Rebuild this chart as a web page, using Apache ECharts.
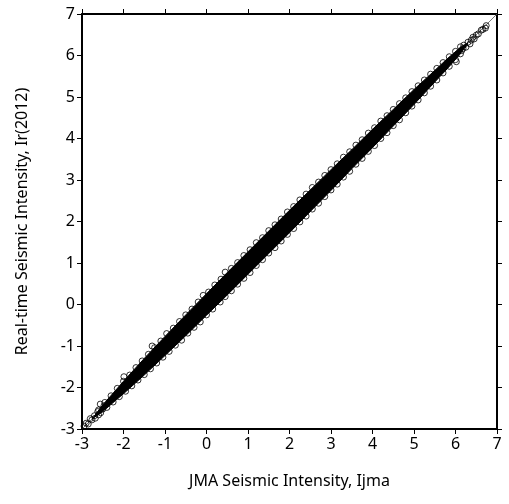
<!DOCTYPE html>
<html>
<head>
<meta charset="utf-8">
<script src="https://cdn.jsdelivr.net/npm/echarts@6/dist/echarts.min.js"></script>
<style>html,body{margin:0;padding:0;background:#fff}#c{width:509px;height:504px}</style>
</head>
<body>
<div id="c"></div>
<script>
// Axis ticks
var ticks = [-3, -2, -1, 0, 1, 2, 3, 4, 5, 6, 7];
// Dense core of the point cloud (solid region)
var bandX    = [-2.75, -2.5, -2.2, -2.0, -1.5, -1.0, -0.5, 0.0, 0.5, 1.0, 1.5, 2.0, 2.5, 3.0, 3.5, 4.0, 4.5, 5.0, 5.5, 5.8, 6.1, 6.3];
var bandLow  = [-2.75, -2.58, -2.32, -2.15, -1.70, -1.23, -0.75, -0.26, 0.23, 0.73, 1.23, 1.73, 2.24, 2.75, 3.27, 3.78, 4.30, 4.82, 5.36, 5.68, 6.02, 6.30];
var bandHigh = [-2.75, -2.42, -2.08, -1.85, -1.30, -0.77, -0.25, 0.26, 0.77, 1.27, 1.77, 2.27, 2.76, 3.25, 3.73, 4.22, 4.70, 5.18, 5.64, 5.92, 6.18, 6.30];
// Individual circles along the upper edge
var upperPts = [[-2.6,-2.54],[-2.45,-2.36],[-2.3,-2.20],[-2.15,-2.02],[-2.0,-1.85],[-1.99,-1.74],[-1.85,-1.70],[-1.7,-1.52],[-1.55,-1.36],[-1.4,-1.20],[-1.31,-1.00],[-1.25,-1.04],[-1.1,-0.88],[-0.96,-0.70],[-0.8,-0.57],[-0.65,-0.41],[-0.5,-0.25],[-0.35,-0.11],[-0.2,0.06],[-0.08,0.22],[0.05,0.30],[0.2,0.47],[0.35,0.61],[0.45,0.78],[0.6,0.87],[0.75,1.01],[0.9,1.18],[1.05,1.32],[1.2,1.49],[1.35,1.61],[1.5,1.78],[1.65,1.92],[1.8,2.06],[1.95,2.23],[2.1,2.36],[2.25,2.52],[2.4,2.66],[2.55,2.82],[2.7,2.95],[2.85,3.11],[3.0,3.25],[3.15,3.39],[3.3,3.55],[3.45,3.68],[3.6,3.84],[3.75,3.97],[3.9,4.13],[4.05,4.26],[4.2,4.42],[4.35,4.55],[4.5,4.70],[4.65,4.84],[4.8,4.98],[4.95,5.13],[5.1,5.27],[5.25,5.41],[5.4,5.55],[5.55,5.69],[5.7,5.83],[5.85,5.97],[6.0,6.10],[6.12,6.21]];
// Individual circles along the lower edge
var lowerPts = [[-2.55,-2.61],[-2.4,-2.48],[-2.25,-2.35],[-2.1,-2.22],[-1.95,-2.09],[-1.8,-1.96],[-1.65,-1.82],[-1.5,-1.69],[-1.35,-1.55],[-1.2,-1.41],[-1.05,-1.27],[-0.9,-1.13],[-0.75,-0.98],[-0.6,-0.86],[-0.45,-0.69],[-0.3,-0.55],[-0.15,-0.42],[0.0,-0.25],[0.15,-0.11],[0.33,0.06],[0.45,0.19],[0.6,0.33],[0.75,0.49],[0.9,0.63],[1.05,0.77],[1.2,0.94],[1.35,1.08],[1.5,1.24],[1.65,1.37],[1.8,1.53],[1.95,1.69],[2.1,1.83],[2.25,1.99],[2.4,2.13],[2.55,2.30],[2.7,2.44],[2.85,2.60],[3.0,2.76],[3.15,2.90],[3.3,3.07],[3.45,3.21],[3.6,3.38],[3.75,3.52],[3.9,3.69],[4.05,3.83],[4.2,4.00],[4.35,4.14],[4.5,4.31],[4.65,4.45],[4.8,4.62],[4.95,4.78],[5.1,4.93],[5.25,5.10],[5.4,5.26],[5.55,5.41],[5.7,5.58],[5.85,5.74],[6.0,5.90],[6.02,5.85],[6.12,6.04]];
// Sparse circles at both ends of the cloud
var endPts = [[-2.95,-2.93],[-2.9,-2.86],[-2.85,-2.88],[-2.8,-2.75],[-2.76,-2.78],[-2.7,-2.68],[-2.68,-2.74],[-2.62,-2.58],[-2.6,-2.66],[-2.56,-2.40],[-2.5,-2.52],[-2.47,-2.44],
              [6.15,6.12],[6.18,6.17],[6.2,6.25],[6.25,6.2],[6.3,6.32],[6.35,6.28],[6.38,6.37],[6.42,6.44],[6.45,6.4],[6.5,6.49],[6.55,6.52],[6.62,6.61],[6.66,6.63],[6.72,6.66],[6.74,6.72]];
// 1:1 reference line
var diag = [[-3, -3], [7, 7]];

var font = 'Noto Sans';
var chart = echarts.init(document.getElementById('c'), null, {renderer: 'canvas'});

function axisCommon(pos, showLabel) {
  return {
    type: 'value', min: ticks[0], max: ticks[ticks.length - 1], interval: 1, position: pos,
    axisLine: {show: true, onZero: false, lineStyle: {color: '#000', width: 2}},
    axisTick: {show: true, inside: false, length: 5, lineStyle: {color: '#000', width: 1}},
    axisLabel: {show: showLabel, color: '#000', fontSize: 16, fontFamily: font, margin: 7},
    splitLine: {show: false}
  };
}
var xb = axisCommon('bottom', true);
xb.name = 'JMA Seismic Intensity, Ijma';
xb.nameLocation = 'middle'; xb.nameGap = 44;
xb.nameTextStyle = {color: '#000', fontSize: 16, fontFamily: font};
var xt = axisCommon('top', false);
var yl = axisCommon('left', true);
yl.name = 'Real-time Seismic Intensity, Ir(2012)';
yl.nameLocation = 'middle'; yl.nameGap = 52;
yl.nameTextStyle = {color: '#000', fontSize: 16, fontFamily: font};
var yr = axisCommon('right', false);

var circleStyle = {color: 'rgba(0,0,0,0)', borderColor: '#000', borderWidth: 1};

chart.setOption({
  animation: false,
  backgroundColor: '#fff',
  grid: {left: 82, right: 12, top: 14, bottom: 75, containLabel: false},
  xAxis: [xb, xt],
  yAxis: [yl, yr],
  series: [
    {type: 'line', data: diag, symbol: 'none', lineStyle: {color: '#555', width: 0.8}, z: 1, silent: true},
    {
      type: 'custom', data: [[0, 0]], z: 2, silent: true, clip: true,
      renderItem: function (params, api) {
        var pts = [];
        for (var i = 0; i < bandX.length; i++) pts.push(api.coord([bandX[i], bandHigh[i]]));
        for (var j = bandX.length - 1; j >= 0; j--) pts.push(api.coord([bandX[j], bandLow[j]]));
        return {type: 'polygon', shape: {points: pts}, style: {fill: '#000', stroke: '#000', lineWidth: 1}};
      }
    },
    {type: 'scatter', data: upperPts, symbol: 'circle', symbolSize: 6, itemStyle: circleStyle, z: 3, silent: true},
    {type: 'scatter', data: lowerPts, symbol: 'circle', symbolSize: 6, itemStyle: circleStyle, z: 3, silent: true},
    {type: 'scatter', data: endPts, symbol: 'circle', symbolSize: 6, itemStyle: circleStyle, z: 3, silent: true}
  ]
});
</script>
</body>
</html>
